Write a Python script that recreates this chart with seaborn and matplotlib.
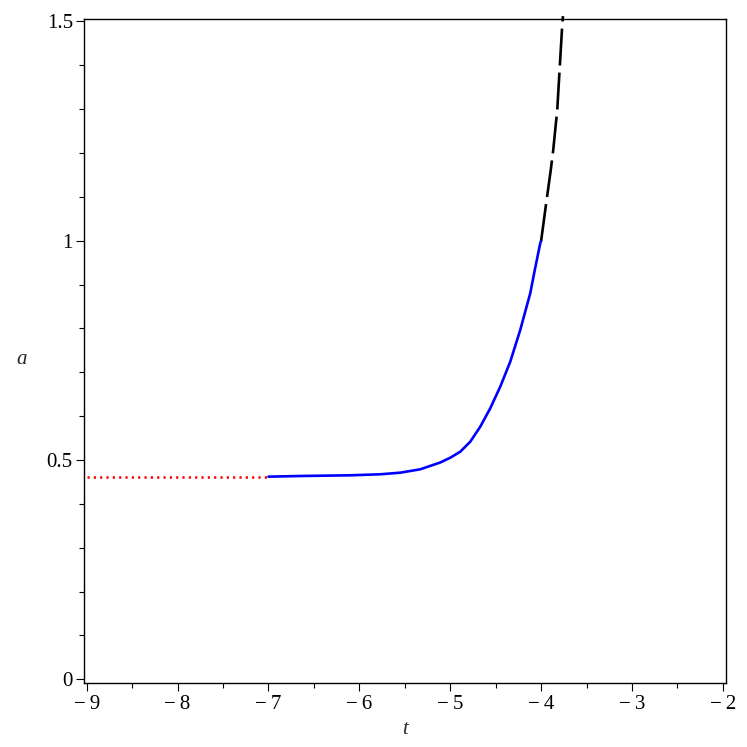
import matplotlib
matplotlib.use("Agg")
import matplotlib.pyplot as plt
from matplotlib.ticker import MultipleLocator
import seaborn as sns
import pandas as pd

# ---- data ----
red_t = [-9.0, -7.0]
red_a = [0.461, 0.461]

blue_t = [-7.0, -6.65, -6.10, -5.77, -5.55, -5.33, -5.11, -5.00, -4.89, -4.78,
          -4.67, -4.56, -4.45, -4.34, -4.23, -4.18, -4.12, -4.07, -4.01, -4.0]
blue_a = [0.462, 0.4635, 0.4651, 0.4674, 0.4711, 0.4788, 0.4943, 0.5052, 0.5189, 0.5417,
          0.5759, 0.6179, 0.6671, 0.7241, 0.7964, 0.8345, 0.8801, 0.9332, 0.9941, 1.0]

black_t = [-4.0, -3.945, -3.895, -3.867, -3.823, -3.793, -3.768, -3.760]
black_a = [1.0, 1.085, 1.16, 1.207, 1.298, 1.404, 1.492, 1.512]

x_ticks = [-9, -8, -7, -6, -5, -4, -3, -2]
x_tick_labels = ["\u2212\u20099", "\u2212\u20098", "\u2212\u20097", "\u2212\u20096",
                 "\u2212\u20095", "\u2212\u20094", "\u2212\u20093", "\u2212\u20092"]
y_ticks = [0, 0.5, 1, 1.5]
y_tick_labels = ["0", "0.5", "1", "1.5"]
x_label = "t"
y_label = "a"

sns.set_style("white")
plt.rcParams["font.family"] = ["Liberation Serif", "DejaVu Serif"]

fig = plt.figure(figsize=(7.47, 7.47), dpi=100)
ax = fig.add_axes([0.1124, 0.0857, 0.8594, 0.8882])

red_df = pd.DataFrame({"t": red_t, "a": red_a})
blue_df = pd.DataFrame({"t": blue_t, "a": blue_a})
black_df = pd.DataFrame({"t": black_t, "a": black_a})

sns.lineplot(data=red_df, x="t", y="a", ax=ax, color="#ff0000", lw=1.9,
             sort=False, estimator=None)
ax.lines[-1].set_dashes((0.8, 1.6))
ax.lines[-1].set_dash_capstyle("butt")
sns.lineplot(data=blue_df, x="t", y="a", ax=ax, color="#0000ff", lw=1.9,
             sort=False, estimator=None)
ax.lines[-1].set_solid_joinstyle("round")
sns.lineplot(data=black_df, x="t", y="a", ax=ax, color="black", lw=1.9,
             sort=False, estimator=None)
ax.lines[-1].set_dashes((14, 2.7))
ax.lines[-1].set_clip_on(False)

ax.set_xlim(-9.03, -1.967)
ax.set_ylim(-0.0084, 1.5043)

ax.set_xticks(x_ticks)
ax.set_xticklabels(x_tick_labels)
ax.set_yticks(y_ticks)
ax.set_yticklabels(y_tick_labels)
ax.xaxis.set_minor_locator(MultipleLocator(0.5))
ax.yaxis.set_minor_locator(MultipleLocator(0.1))

ax.tick_params(axis="both", which="major", direction="out", length=5.5, width=0.8,
               labelsize=15, color="black", labelcolor="black",
               bottom=True, left=True, top=False, right=False)
ax.tick_params(axis="x", which="major", pad=3.5)
ax.tick_params(axis="y", which="major", pad=2.5)
ax.tick_params(axis="both", which="minor", direction="out", length=3.3, width=0.8,
               bottom=True, left=True, top=False, right=False, color="black")

for s in ax.spines.values():
    s.set_visible(True)
    s.set_color("black")
    s.set_linewidth(1.0)

ax.set_xlabel(x_label, fontstyle="italic", fontsize=15)
ax.set_ylabel(y_label, fontstyle="italic", fontsize=15, rotation=0,
              ha="center", va="center")
ax.xaxis.set_label_coords(0.5, -0.056)
ax.yaxis.set_label_coords(-0.0966, 0.487)
ax.grid(False)

fig.savefig("out.png", dpi=100)
